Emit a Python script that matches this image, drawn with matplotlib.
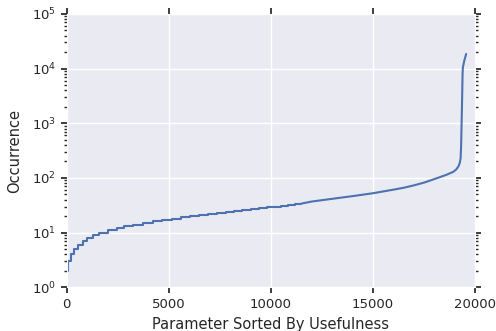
import matplotlib
matplotlib.use("Agg")
from matplotlib import pyplot as plt
import seaborn as sns

# low counts: rank where each integer occurrence value starts (step part)
step_rank = [0, 30, 78, 196, 358, 553, 784, 1009, 1288, 1597, 2008, 2449,
             2822, 3248, 3723, 4213, 4653, 5173, 5599, 6040, 6481, 6905,
             7346, 7787, 8195, 8602, 9013, 9420, 9797, 10120, 10483, 10855,
             11183, 11500]
step_count = [1, 2, 3, 4, 5, 6, 7, 8, 9, 10, 11, 12, 13, 14, 15, 16, 17, 18,
              19, 20, 21, 22, 23, 24, 25, 26, 27, 28, 29, 30, 31, 32, 33, 33]

tail_rank = [11500, 12000, 13000, 14000, 15000, 16000, 16500, 17000, 17500,
             18000, 18300, 18600, 18950, 19100, 19200, 19260, 19300, 19320,
             19335, 19350, 19365, 19380, 19395, 19410, 19480, 19570]
tail_count = [34, 37, 41.5, 46.5, 52.5, 61, 66, 73, 82, 95, 104, 114, 130,
              145, 165, 190, 230, 350, 600, 1100, 2000, 4000, 8000, 10500,
              14000, 18500]

sns.set_style("darkgrid", {"xtick.bottom": True, "ytick.left": True,
                           "xtick.top": True, "ytick.right": True})

fig = plt.figure(figsize=(4.96, 3.31), dpi=100)
ax = fig.add_axes([0.1345, 0.132, 0.823, 0.826])

blue = "#4C72B0"
ax.step(step_rank, step_count, where="post", color=blue, lw=1.5)
ax.plot(tail_rank, tail_count, color=blue, lw=1.5)

ax.set_yscale("log")
ax.set_ylim(1, 1e5)
ax.set_xlim(0, 20000)
ax.set_xticks([0, 5000, 10000, 15000, 20000])

ax.tick_params(which="both", direction="out", colors=".15",
               top=True, right=True, labelsize=9.5)
ax.tick_params(which="major", length=4.3, width=1.25)
ax.tick_params(which="minor", length=2.4, width=1.0)
ax.grid(True, which="major", color="white", lw=1)

ax.set_xlabel("Parameter Sorted By Usefulness", fontsize=10.5, color=".15")
ax.set_ylabel("Occurrence", fontsize=10.5, color=".15", labelpad=7)

fig.savefig("out.png", dpi=100)
